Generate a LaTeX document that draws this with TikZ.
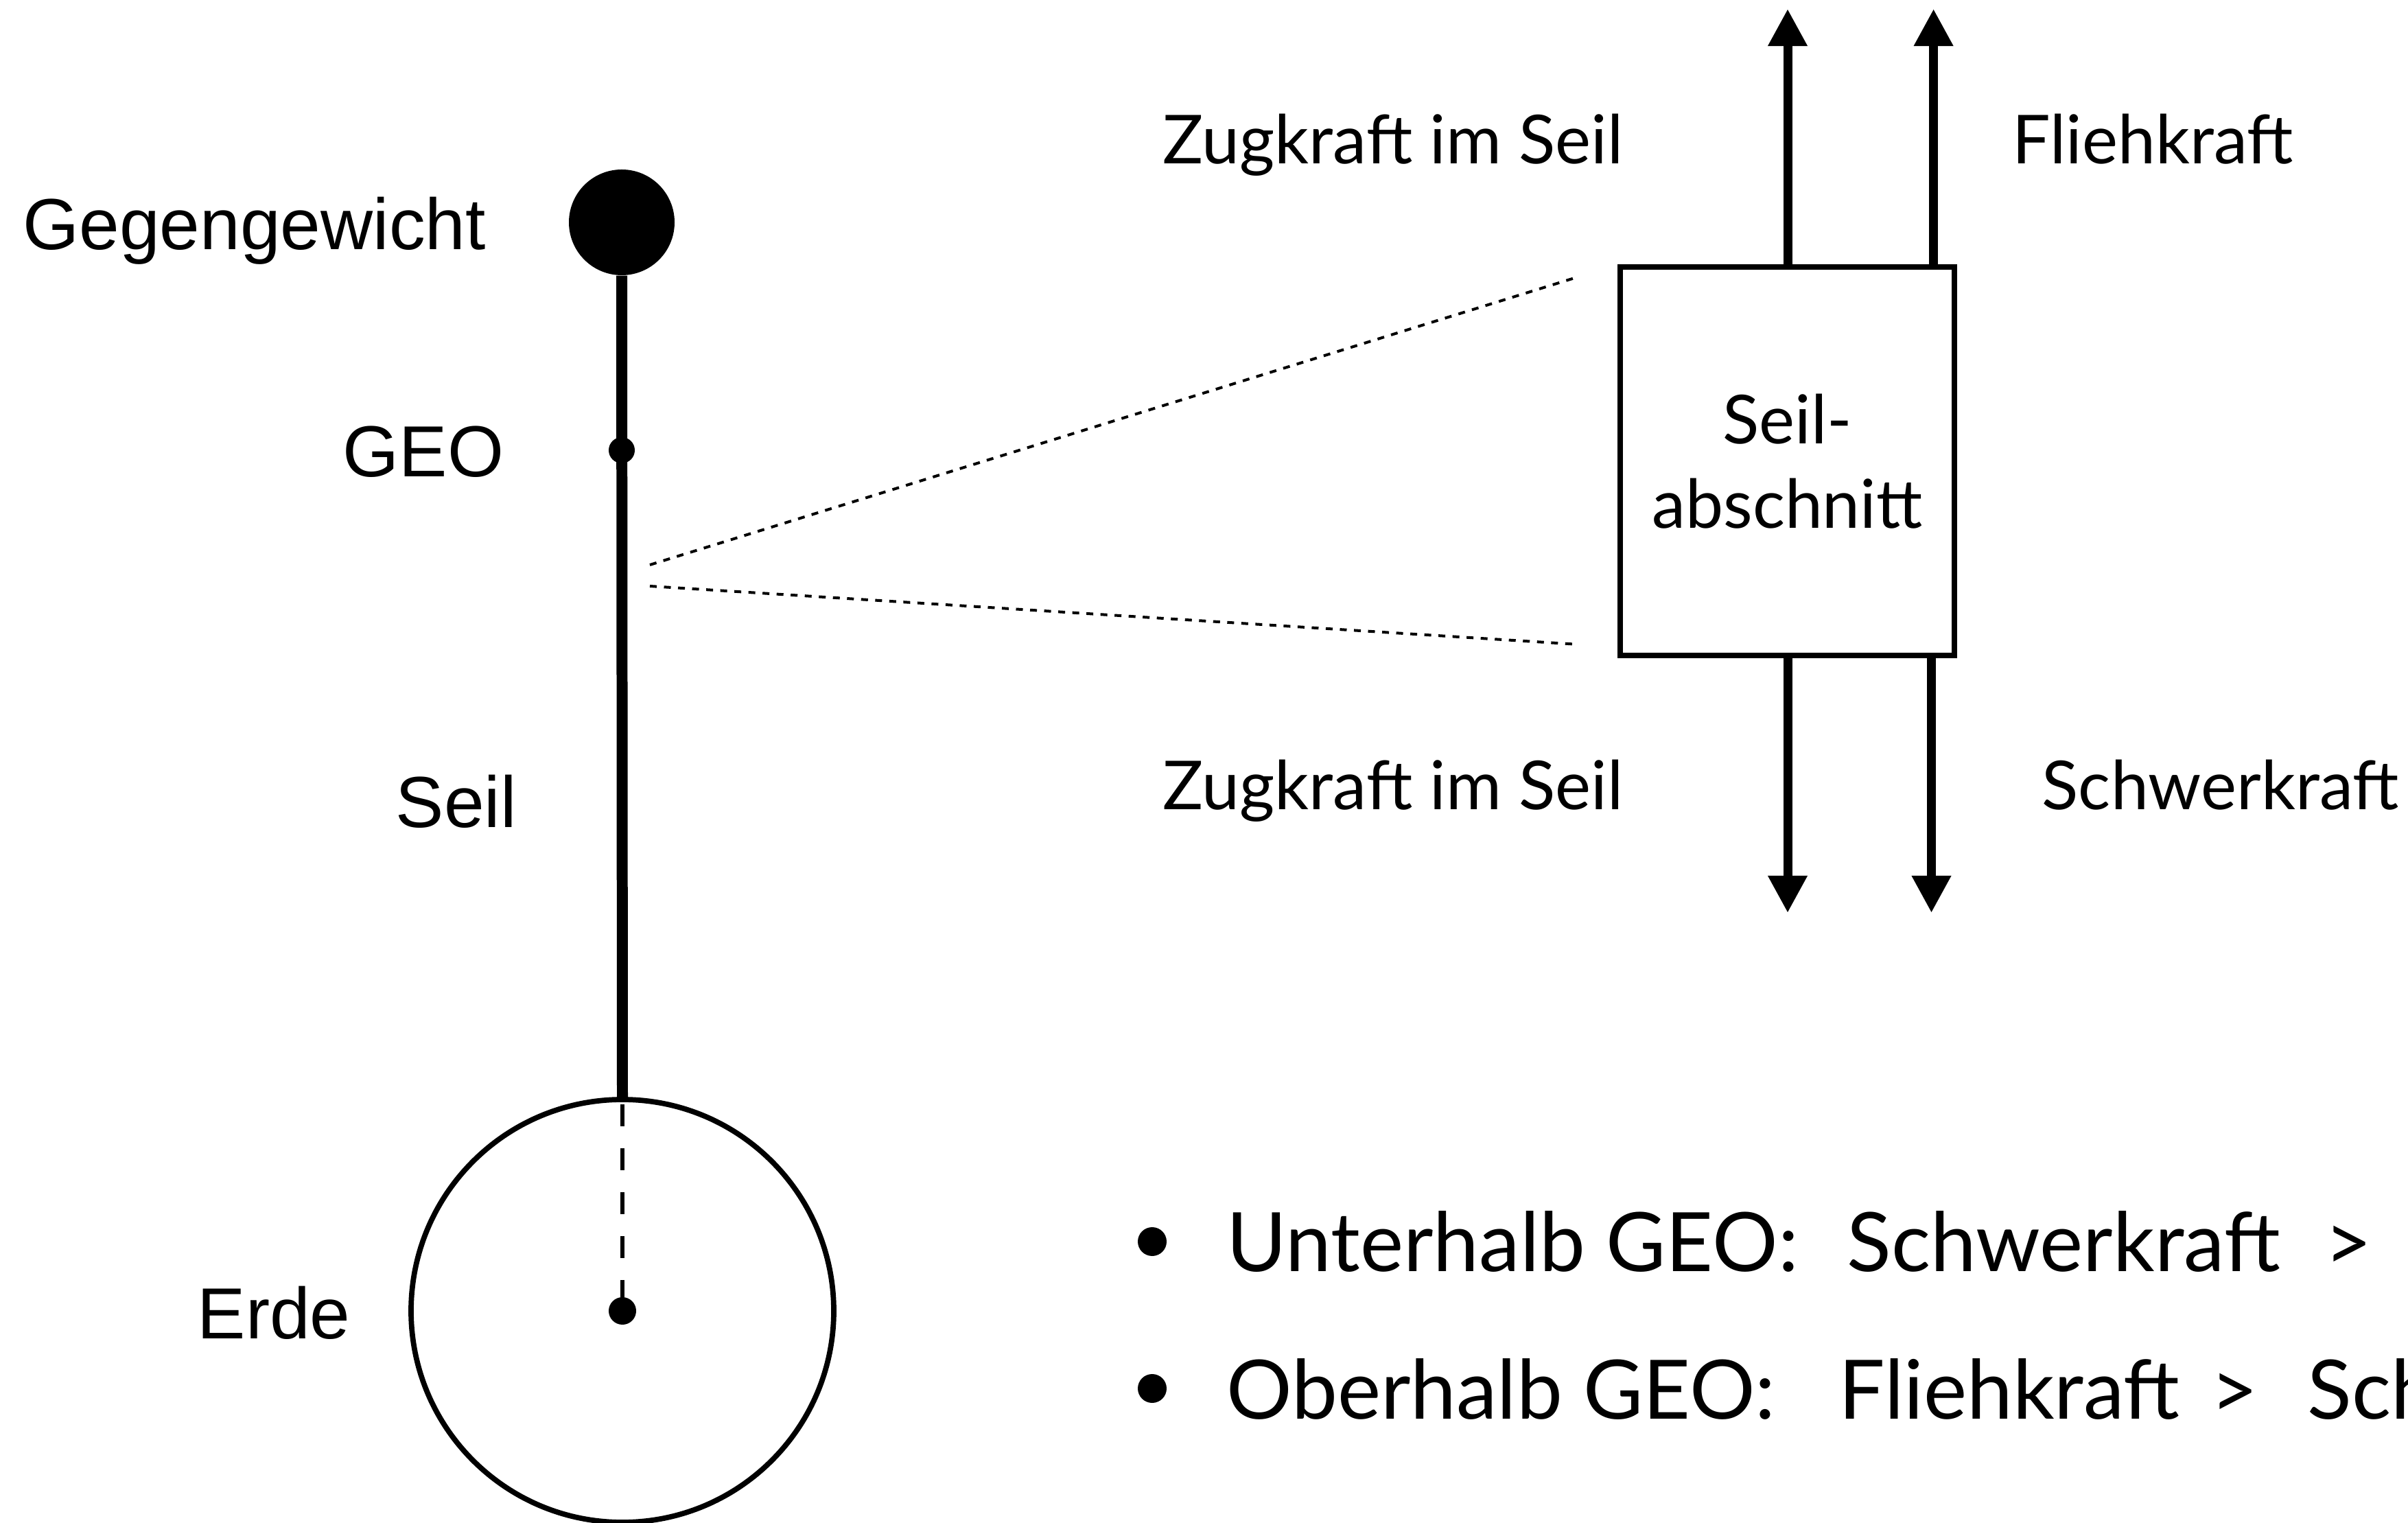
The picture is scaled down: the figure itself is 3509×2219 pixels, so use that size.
\documentclass[tikz,border=0pt]{standalone}
\usepackage{fontspec}
\setmainfont{Liberation Sans}
\newfontfamily\gill{Lato}
\usetikzlibrary{arrows.meta}
\tikzset{
 lbl/.style={anchor=base west, inner sep=0pt, font=\fontsize{30}{36}\selectfont},
 glbl/.style={anchor=base west, inner sep=0pt, font=\gill\fontsize{28}{35}\selectfont},
 blbl/.style={anchor=base west, inner sep=0pt, font=\gill\fontsize{34}{41}\selectfont},
 rope/.style={line width=4.55pt, line cap=butt},
 force/.style={line width=3.7pt, -{Triangle[length=15.4pt,width=15.4pt]}},
 zoomline/.style={line width=1.14pt, dash pattern=on 2.85pt off 3pt},
 core/.style={line width=1.7pt, dash pattern=on 9.1pt off 9.1pt, dash phase=15.08pt},
 dotnode/.style={circle, fill, inner sep=0pt, minimum size=#1},
 boxnode/.style={draw, line width=2.3pt, minimum width=48.7mm, minimum height=56.6mm, inner sep=0pt, align=center, font=\gill\fontsize{28}{35}\selectfont},
}
\begin{document}
\begin{tikzpicture}[x=0.1mm,y=-0.1mm]
\useasboundingbox (0,0) rectangle (3509,2219);
\clip (0,0) rectangle (3509,2219);
% left figure
\node[draw, circle, line width=2.2pt, minimum size=61.6mm, inner sep=0pt] (earth) at (907,1910) {};
\node[dotnode=15.4mm] (cw) at (906,324) {};
\draw[rope] (cw.south) -- (earth.north);
\node[dotnode=3.8mm] (geo) at (906,656) {};
\node[dotnode=4mm] (edot) at (907,1910) {};
\draw[core] (earth.north) -- (edot.center);
\node[lbl] (lcw) at (33,364) {Gegengewicht};
\node[lbl] (lgeo) at (499,695) {GEO};
\node[lbl] (lseil) at (576,1206) {Seil};
\node[lbl] (lerde) at (287,1950) {Erde};
% zoom lines
\coordinate (z1a) at (947,823);
\coordinate (z1b) at (2301,403);
\coordinate (z2a) at (947,854);
\coordinate (z2b) at (2301,939);
\draw[zoomline] (z1a) -- (z1b);
\draw[zoomline] (z2a) -- (z2b);
% rope section box
\node[boxnode] (box) at (2604.5,672) {Seil-\\abschnitt};
\coordinate (u1) at (2605,13);
\coordinate (u2) at (2817.6,13);
\coordinate (d1) at (2605,1330);
\coordinate (d2) at (2814.5,1330);
\draw[force] (u1 |- box.north) -- (u1);
\draw[force] (u2 |- box.north) -- (u2);
\draw[force] (d1 |- box.south) -- (d1);
\draw[force] (d2 |- box.south) -- (d2);
\node[glbl] (tz1) at (1694,239) {Zugkraft im Seil};
\node[glbl] (tf) at (2932,239) {Fliehkraft};
\node[glbl] (tz2) at (1694,1180) {Zugkraft im Seil};
\node[glbl] (ts) at (2975,1180) {Schwerkraft};
% bullets
\node[dotnode=4.2mm] (b1) at (1679,1809) {};
\node[dotnode=4.2mm] (b2) at (1679,2023) {};
\node[blbl] (l1a) at (1787,1852) {Unterhalb GEO:};
\node[blbl] (l1b) at (2691,1852) {Schwerkraft};
\node[blbl] (l1c) at (3387,1852) {>};
\node[blbl] (l2a) at (1787,2067) {Oberhalb GEO:};
\node[blbl] (l2b) at (2679,2067) {Fliehkraft};
\node[blbl] (l2c) at (3221,2067) {>};
\node[blbl] (l2d) at (3362,2067) {Schwerkraft};
\end{tikzpicture}
\end{document}
